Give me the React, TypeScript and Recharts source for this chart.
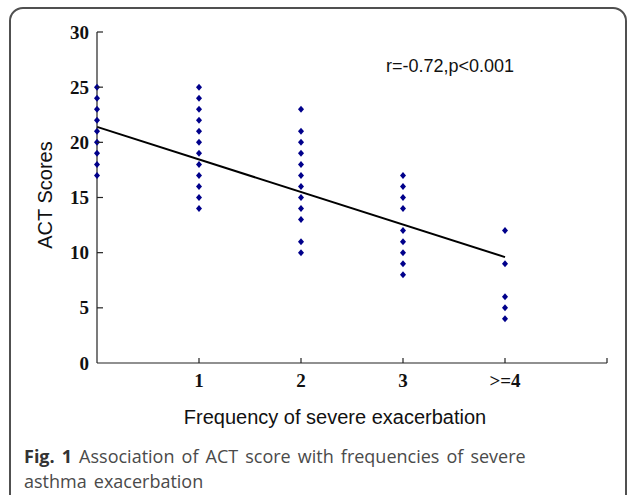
import { ScatterChart, Scatter, XAxis, YAxis, ReferenceLine } from "recharts";

// frequency groups on the x axis (0 .. >=4), plus the empty end tick
const xTicks = [1, 2, 3, 4, 5];
const xTickLabels = ["1", "2", "3", ">=4", ""];
const yTicks = [0, 5, 10, 15, 20, 25, 30];

// ACT scores, one list per frequency group
const scores0 = [25, 24, 23, 22, 21, 20, 19, 18, 17];
const scores1 = [25, 24, 23, 22, 21, 20, 19, 18, 17, 16, 15, 14];
const scores2 = [23, 21, 20, 19, 18, 17, 16, 15, 14, 13, 11, 10];
const scores3 = [17, 16, 15, 14, 12, 11, 10, 9, 8];
const scores4 = [12, 9, 6, 5, 4];

// fitted line end points
const fitStart = { x: 0, y: 21.4 };
const fitEnd = { x: 4, y: 9.6 };

const groups = [scores0, scores1, scores2, scores3, scores4];
const points = groups.flatMap((list, gi) => list.map((s) => ({ x: gi, y: s })));

const AXIS = "#222";
const DOT = "#00008B";

const Diamond = (props: any) => {
  const { cx, cy } = props;
  return (
    <polygon
      points={`${cx},${cy - 3.5} ${cx + 3},${cy} ${cx},${cy + 3.5} ${cx - 3},${cy}`}
      fill={DOT}
    />
  );
};

const XTick = ({ x, y, payload }: any) => {
  const label = xTickLabels[xTicks.indexOf(payload.value)];
  return (
    <g>
      <line x1={x} y1={y} x2={x} y2={y - 5} stroke={AXIS} strokeWidth={1.2} />
      <text
        x={x}
        y={y + 17}
        textAnchor="middle"
        dominantBaseline="central"
        fontFamily="'Liberation Serif', serif"
        fontWeight="bold"
        fontSize={19}
        fill="#111"
      >
        {label}
      </text>
    </g>
  );
};

const YTick = ({ x, y, payload }: any) => (
  <g>
    {payload.value > 0 && (
      <line x1={x} y1={y} x2={x + 6} y2={y} stroke={AXIS} strokeWidth={1.2} />
    )}
    <text
      x={x - 8}
      y={y}
      textAnchor="end"
      dominantBaseline="central"
      fontFamily="'Liberation Serif', serif"
      fontWeight="bold"
      fontSize={19}
      fill="#111"
    >
      {payload.value}
    </text>
  </g>
);

export default function App() {
  return (
    <div
      style={{
        position: "absolute",
        left: 0,
        top: 0,
        width: 627,
        height: 495,
        overflow: "hidden",
        background: "#fff",
      }}
    >
      <div
        style={{
          position: "absolute",
          left: 9,
          top: 7,
          width: 618,
          height: 560,
          boxSizing: "border-box",
          border: "2px solid #505050",
          borderRadius: 14,
        }}
      />
      <div style={{ position: "absolute", left: 0, top: 0 }}>
        <ScatterChart
          width={627}
          height={495}
          margin={{ top: 32, right: 20, bottom: 0, left: 0 }}
        >
          <XAxis
            type="number"
            dataKey="x"
            domain={[0, 5]}
            ticks={xTicks}
            interval={0}
            height={132}
            tickSize={0}
            tickMargin={0}
            tickLine={false}
            tick={<XTick />}
            axisLine={{ stroke: AXIS, strokeWidth: 1.2 }}
            label={{
              content: () => (
                <text
                  x={335}
                  y={417}
                  textAnchor="middle"
                  dominantBaseline="central"
                  fontFamily="'Liberation Sans', Arial, sans-serif"
                  fontSize={20}
                  fill="#111"
                >
                  Frequency of severe exacerbation
                </text>
              ),
            }}
          />
          <YAxis
            type="number"
            dataKey="y"
            domain={[0, 30]}
            ticks={yTicks}
            interval={0}
            width={97}
            tickSize={0}
            tickMargin={0}
            tickLine={false}
            tick={<YTick />}
            axisLine={{ stroke: AXIS, strokeWidth: 1.2 }}
            label={{
              content: () => (
                <text
                  transform="translate(45,195) rotate(-90)"
                  textAnchor="middle"
                  dominantBaseline="central"
                  fontFamily="'Liberation Sans', Arial, sans-serif"
                  fontSize={20}
                  fill="#111"
                >
                  ACT Scores
                </text>
              ),
            }}
          />
          <ReferenceLine
            segment={[fitStart, fitEnd]}
            stroke="#000"
            strokeWidth={2}
            ifOverflow="visible"
          />
          <Scatter data={points} shape={<Diamond />} isAnimationActive={false} />
        </ScatterChart>
      </div>
      <div
        style={{
          position: "absolute",
          left: 386,
          top: 56,
          lineHeight: "20px",
          fontFamily: "'Liberation Sans', Arial, sans-serif",
          fontSize: 18,
          color: "#111",
          whiteSpace: "nowrap",
        }}
      >
        r=-0.72,p&lt;0.001
      </div>
      <div
        style={{
          position: "absolute",
          left: 24,
          top: 444,
          lineHeight: "25px",
          fontFamily: "'Open Sans', sans-serif",
          fontSize: 18,
          wordSpacing: "2.4px",
          color: "#4a4a4a",
          whiteSpace: "nowrap",
        }}
      >
        <span style={{ fontWeight: 700, color: "#333" }}>Fig. 1</span> Association of ACT
        score with frequencies of severe
        <br />
        asthma exacerbation
      </div>
    </div>
  );
}
